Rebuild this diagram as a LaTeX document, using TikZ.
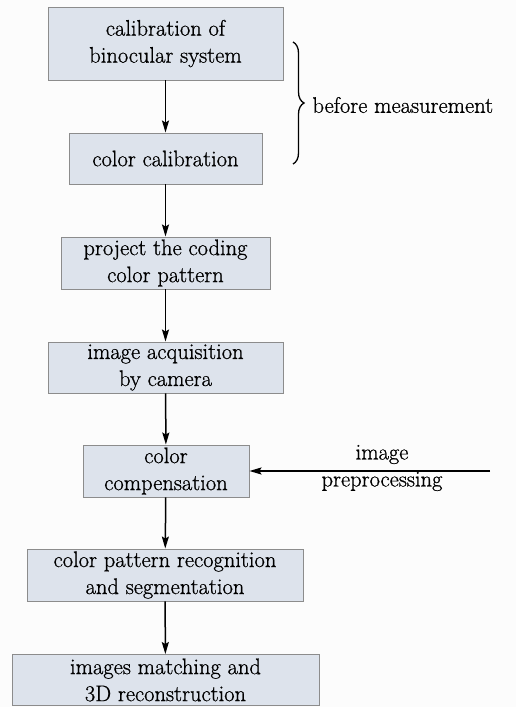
\documentclass[tikz,border=0pt]{standalone}
\usepackage{fontspec}
\setmainfont{Latin Modern Roman}[RawFeature={embolden=0.8}]
\usetikzlibrary{arrows.meta,decorations.pathreplacing}
\definecolor{boxfill}{HTML}{DDE3EC}
\definecolor{boxline}{HTML}{8C8C8C}
\definecolor{bgc}{HTML}{FCFCFC}
\begin{document}
\begin{tikzpicture}[x=1pt,y=-1pt,
  stepbox/.style={draw=boxline,fill=boxfill,line width=0.9pt,align=center,inner sep=0pt,
    font=\fontsize{22.5}{27}\selectfont},
  flow/.style={line width=1.5pt,-{Stealth[length=12pt,width=7pt,inset=2pt]}},
  lbl/.style={align=center,font=\fontsize{22.5}{27}\selectfont}]
\fill[bgc] (0,0) rectangle (516,707);
\useasboundingbox (0,0) rectangle (516,707);
\node[stepbox,minimum width=235pt,minimum height=73pt] (b1) at (165.5,43.5) {calibration of\\binocular system};
\node[stepbox,minimum width=193pt,minimum height=51pt] (b2) at (165.5,158.5) {color calibration};
\node[stepbox,minimum width=209pt,minimum height=52pt] (b3) at (165.5,263) {project the coding\\color pattern};
\node[stepbox,minimum width=235pt,minimum height=51pt] (b4) at (165.5,367.5) {image acquisition\\by camera};
\node[stepbox,minimum width=166pt,minimum height=52pt] (b5) at (166,471) {color\\compensation};
\node[stepbox,minimum width=276pt,minimum height=52pt] (b6) at (165,575) {color pattern recognition\\and segmentation};
\node[stepbox,minimum width=307pt,minimum height=51pt] (b7) at (165.5,680) {images matching and\\3D reconstruction};
\draw[flow] (b1) -- (b2);
\draw[flow] (b2) -- (b3);
\draw[flow] (b3) -- (b4);
\draw[flow] (b4) -- (b5);
\draw[flow] (b5) -- (b6);
\draw[flow] (b6) -- (b7);
\coordinate (pin) at (490,471);
\draw[flow] (pin) -- (b5.east);
\node[lbl] (pre) at (382,468) {image\\preprocessing};
\coordinate (bt) at (293,42);
\coordinate (bb) at (293,164);
\draw[line width=1.3pt,decorate,decoration={brace,amplitude=11pt}] (bt) -- (bb);
\node[lbl,anchor=west] (bm) at (309,105) {before measurement};
\end{tikzpicture}
\end{document}
